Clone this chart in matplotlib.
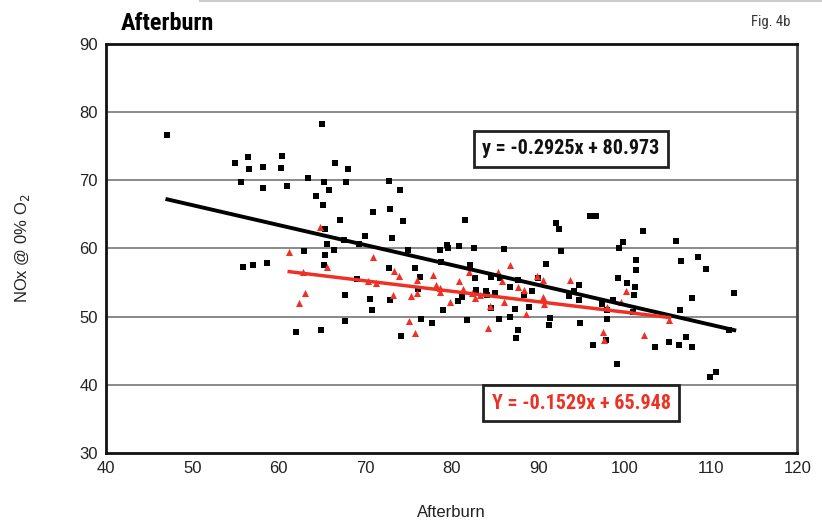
import matplotlib
matplotlib.use("Agg")
import matplotlib.pyplot as plt
import numpy as np

# black squares (all runs)
black_x = [47.1, 54.9, 56.4, 56.6, 58.2, 60.4, 60.3, 55.6, 58.2, 60.9, 65.0, 63.4, 65.2, 65.8,
           66.5, 68.0, 67.8, 64.3, 65.1, 67.1, 65.3, 70.0, 67.5, 65.6, 69.3, 66.4, 62.9, 65.3,
           55.8, 57.0, 58.6, 65.2, 69.1, 67.7, 70.5, 67.7, 62.0, 64.9,
           72.7, 74.0, 70.9, 72.9, 74.4, 81.5, 92.1, 92.4, 73.1, 75.0, 78.7, 79.4, 79.6, 80.9,
           82.6, 86.0, 92.6,
           78.8, 82.1, 90.9, 72.7, 75.8, 76.3, 82.7, 84.5, 85.6, 90.0, 87.7, 76.1, 82.8, 84.0,
           84.1, 85.0, 86.7, 88.4, 89.3, 94.7, 94.1, 93.6, 94.7, 72.9, 70.8, 80.7, 81.2, 79.0,
           84.6, 87.3, 88.9, 76.5, 77.7, 74.1, 81.8, 85.5, 86.8, 87.7, 87.4, 91.4, 91.3, 94.9,
           96.0, 96.7, 102.1, 99.8, 99.4, 106.0, 108.5, 101.3, 106.5, 101.3, 109.4, 99.3, 100.3,
           101.2, 101.1, 97.4, 98.0, 98.7, 101.0, 98.0, 107.8, 106.4, 112.7, 112.1, 97.9, 96.4,
           103.5, 105.2, 106.3, 107.1, 107.8, 99.1, 109.9, 110.6]
black_y = [76.7, 72.6, 73.4, 71.7, 72.0, 73.5, 71.8, 69.8, 68.9, 69.1, 78.3, 70.3, 69.7, 68.6,
           72.6, 71.6, 69.7, 67.7, 66.3, 64.2, 62.8, 61.8, 61.2, 60.7, 60.6, 59.8, 59.6, 59.0,
           57.3, 57.5, 57.8, 57.6, 55.5, 53.2, 52.6, 49.4, 47.8, 48.1,
           69.9, 68.5, 65.4, 65.8, 64.0, 64.1, 63.8, 62.8, 61.5, 59.8, 59.8, 60.5, 60.0, 60.3,
           60.0, 59.9, 59.6,
           58.0, 57.6, 57.7, 57.2, 57.2, 55.8, 55.6, 55.8, 55.7, 55.7, 55.4, 54.1, 53.9, 53.8,
           53.2, 53.5, 54.3, 53.2, 53.8, 54.7, 53.8, 53.0, 52.5, 52.4, 50.9, 52.3, 52.9, 51.0,
           51.3, 51.1, 51.4, 49.7, 49.1, 47.1, 49.5, 49.6, 49.9, 48.0, 46.8, 49.8, 48.7, 49.0,
           64.8, 64.8, 62.5, 60.9, 60.1, 61.1, 58.8, 58.3, 58.2, 56.9, 57.0, 55.7, 54.9,
           54.4, 53.2, 51.9, 51.0, 52.5, 50.7, 49.6, 52.7, 50.9, 53.4, 48.0, 46.6, 45.8,
           45.5, 46.3, 45.9, 47.0, 45.6, 43.0, 41.2, 41.8]

# red triangles (second set)
red_x = [64.8, 61.2, 65.6, 62.8, 70.3, 63.0, 62.3, 70.9, 86.8, 73.3, 73.9, 77.8, 82.0, 85.4,
         89.9, 90.6, 85.8, 71.2, 76.0, 76.0, 78.2, 78.7, 78.7, 80.9, 81.3, 82.4, 83.3, 82.7,
         87.7, 88.4, 90.6, 90.7, 93.7, 73.2, 75.3, 79.8, 84.4, 86.1, 88.6, 75.1, 75.8, 84.2,
         100.2, 99.6, 98.0, 97.5, 97.6, 102.3, 105.2]
red_y = [63.1, 59.5, 57.3, 56.5, 55.2, 53.5, 52.0, 58.7, 57.6, 56.7, 55.9, 56.1, 56.6, 56.5,
         55.9, 55.4, 55.2, 54.9, 55.4, 53.5, 54.7, 54.2, 53.6, 55.2, 54.0, 53.5, 53.2, 52.7,
         54.4, 53.9, 52.9, 51.8, 55.3, 53.2, 53.0, 52.1, 51.5, 52.1, 50.4, 49.3, 47.6, 48.3,
         53.8, 52.1, 51.4, 47.7, 46.6, 47.3, 49.5]

black_fit = (-0.2925, 80.973)
red_fit = (-0.1529, 65.948)
black_eq = "y = -0.2925x + 80.973"
red_eq = "Y = -0.1529x + 65.948"

plt.rcParams["font.family"] = ["Liberation Sans", "DejaVu Sans"]
NARROW = ["DejaVu Sans Condensed", "Liberation Sans Narrow", "Roboto Condensed", "Roboto"]
RED = "#ee3124"

fig = plt.figure(figsize=(8.22, 5.23), dpi=100)
ax = fig.add_axes([0.129, 0.134, 0.841, 0.782])

ax.set_xlim(40, 120)
ax.set_ylim(30, 90)
ax.set_xticks(np.arange(40, 121, 10))
ax.set_yticks(np.arange(30, 91, 10))
for y in range(40, 90, 10):
    ax.axhline(y, color="#808080", lw=1.3, zorder=1)

ax.scatter(black_x, black_y, marker="s", s=15, color="black", linewidths=0, zorder=3)
ax.scatter(red_x, red_y, marker="^", s=26, color=RED, linewidths=0, zorder=3)

bx = np.array([min(black_x), max(black_x)])
ax.plot(bx, black_fit[0] * bx + black_fit[1], color="black", lw=2.8, zorder=4)
rx = np.array([min(red_x), max(red_x)])
ax.plot(rx, red_fit[0] * rx + red_fit[1], color=RED, lw=2.5, zorder=4)

box = dict(boxstyle="square,pad=0.42", fc="white", ec="#222222", lw=2)
ax.text(93.8, 74.6, black_eq, ha="center", va="center", fontsize=14.5, fontweight="bold",
        family=NARROW, color="#111111", bbox=box, zorder=5)
ax.text(95.0, 37.3, red_eq, ha="center", va="center", fontsize=14.5, fontweight="bold",
        family=NARROW, color=RED, bbox=box, zorder=5)

for side in ["left", "top", "bottom"]:
    ax.spines[side].set_linewidth(2)
    ax.spines[side].set_color("#111111")
ax.spines["right"].set_linewidth(2)
ax.spines["right"].set_color("#444444")
ax.tick_params(length=0, labelsize=12, pad=6, colors="#222222")

ax.set_xlabel("Afterburn", fontsize=12, color="#222222", labelpad=21)
ax.set_ylabel("NOx @ 0% O$_2$", fontsize=12, color="#222222", labelpad=34)

fig.text(0.147, 0.956, "Afterburn", fontsize=17.5, fontweight="bold", family=NARROW,
         ha="left", va="center")
fig.text(0.962, 0.958, "Fig. 4b", fontsize=10.5, family=NARROW, color="#333333",
         ha="right", va="center")
fig.add_artist(plt.Line2D([0.243, 1.0], [0.998, 0.998], color="#cccccc", lw=1.5,
                          transform=fig.transFigure))

fig.savefig("out.png", dpi=100)
